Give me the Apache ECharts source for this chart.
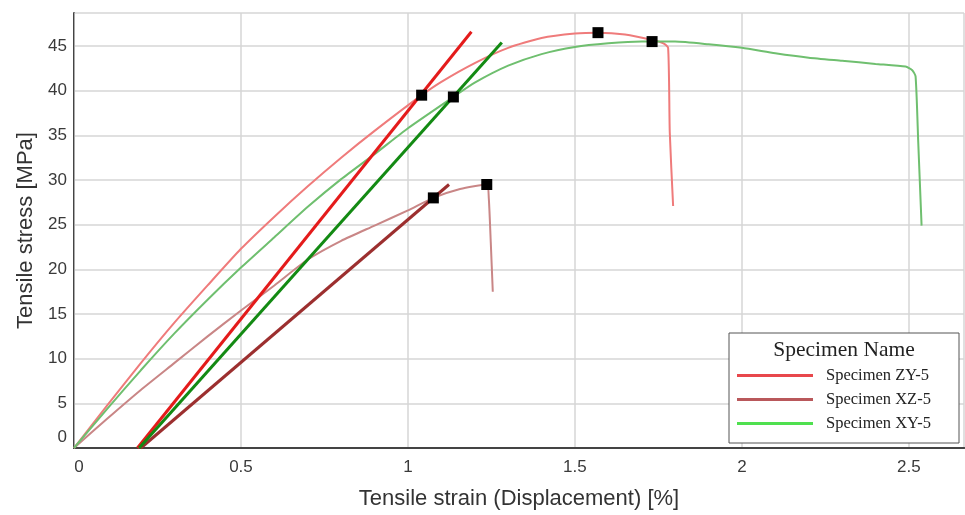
<!DOCTYPE html>
<html>
<head>
<meta charset="utf-8">
<script src="https://cdn.jsdelivr.net/npm/echarts@6/dist/echarts.min.js"></script>
<style>
  html, body { margin: 0; padding: 0; background: #fff; }
  #chart { width: 965px; height: 515px; }
</style>
</head>
<body>
<div id="chart"></div>
<script>
  // stress-strain curves
  const zyStrain = [0, 0.1, 0.2, 0.3, 0.4, 0.5, 0.6, 0.7, 0.8, 0.9, 1.041, 1.1, 1.2, 1.3, 1.4, 1.5, 1.569, 1.65, 1.73, 1.765, 1.779, 1.784, 1.794]
  const zyStress = [0, 4.8, 9.5, 14.0, 18.2, 22.3, 25.9, 29.3, 32.5, 35.5, 39.5, 41.0, 43.1, 44.8, 45.9, 46.4, 46.5, 46.3, 45.7, 45.3, 44.8, 35.3, 27.1]

  const xzStrain = [0, 0.1, 0.2, 0.3, 0.4, 0.5, 0.6, 0.7, 0.8, 0.9, 1.0, 1.076, 1.156, 1.236, 1.242, 1.248, 1.254]
  const xzStress = [0, 3.3, 6.5, 9.5, 12.5, 15.4, 18.2, 21.1, 23.2, 24.9, 26.6, 28.0, 29.0, 29.5, 28.0, 23.0, 17.5]

  const xyStrain = [0, 0.1, 0.2, 0.3, 0.4, 0.5, 0.6, 0.7, 0.8, 0.9, 1.0, 1.136, 1.2, 1.3, 1.4, 1.5, 1.6, 1.7, 1.8, 1.9, 2.0, 2.1, 2.2, 2.3, 2.4, 2.49, 2.51, 2.52, 2.528, 2.538]
  const xyStress = [0, 4.4, 8.7, 12.8, 16.6, 20.2, 23.6, 27.0, 30.1, 32.9, 35.8, 39.3, 40.9, 42.8, 44.1, 44.9, 45.3, 45.5, 45.5, 45.2, 44.8, 44.2, 43.7, 43.35, 43.0, 42.7, 42.3, 41.6, 34.2, 24.9]

  // offset (tangent) lines
  const zyTanStrain = [0.19, 1.19]
  const zyTanStress = [0, 46.6]
  const xzTanStrain = [0.2, 1.123]
  const xzTanStress = [0, 29.5]
  const xyTanStrain = [0.195, 1.281]
  const xyTanStress = [0, 45.4]

  // yield / max points
  const markStrain = [1.041, 1.569, 1.076, 1.236, 1.136, 1.731]
  const markStress = [39.5, 46.5, 28.0, 29.5, 39.3, 45.5]

  const names = ['Specimen ZY-5', 'Specimen XZ-5', 'Specimen XY-5']
  const legendColors = ['#e8474c', '#b9585b', '#4fe04f']

  function pairs(xs, ys) {
    return xs.map((x, i) => [x, ys[i]])
  }

  const labelFont = 'Liberation Sans'
  const chart = echarts.init(document.getElementById('chart'))

  const curve = (name, data, color) => ({
    name: name,
    type: 'line',
    data: data,
    showSymbol: false,
    smooth: 0.2,
    color: color,
    lineStyle: { width: 2, color: color },
    z: 2
  })
  const tangent = (name, data, color) => ({
    name: name,
    type: 'line',
    data: data,
    showSymbol: false,
    color: color,
    lineStyle: { width: 3, color: color },
    z: 3
  })

  chart.setOption({
    animation: false,
    grid: { left: 74, right: 1, top: 13, bottom: 66 },
    xAxis: [{
      type: 'value',
      min: 0,
      max: 2.665,
      interval: 0.5,
      name: 'Tensile strain (Displacement) [%]',
      nameLocation: 'middle',
      nameGap: 40,
      nameTextStyle: { fontFamily: labelFont, fontSize: 22, color: '#333' },
      axisLine: { lineStyle: { color: '#444', width: 2 } },
      axisTick: { show: false },
      axisLabel: {
        fontFamily: labelFont, fontSize: 17, color: '#3a3a3a', margin: 11,
        showMaxLabel: false,
        formatter: v => v === 0 ? '{z|0}' : String(v),
        rich: { z: { fontFamily: labelFont, fontSize: 17, color: '#3a3a3a', padding: [0, 0, 0, 10] } }
      },
      splitLine: { show: true, lineStyle: { color: '#d6d6d6', width: 1.5 } }
    }, {
      type: 'value',
      position: 'top',
      min: 0,
      max: 2.665,
      axisLine: { show: true, lineStyle: { color: '#444', width: 2 } },
      axisTick: { show: false },
      axisLabel: { show: false },
      splitLine: { show: false }
    }],
    yAxis: [{
      type: 'value',
      min: 0,
      max: 48.7,
      interval: 5,
      name: 'Tensile stress [MPa]',
      nameLocation: 'middle',
      nameGap: 37,
      nameTextStyle: { fontFamily: labelFont, fontSize: 22, color: '#333' },
      axisLine: { show: true, lineStyle: { color: '#444', width: 2 } },
      axisTick: { show: false },
      axisLabel: {
        fontFamily: labelFont, fontSize: 17, color: '#3a3a3a', margin: 7,
        showMaxLabel: false,
        formatter: v => v === 0 ? '{z|0}' : String(v),
        rich: { z: { fontFamily: labelFont, fontSize: 17, color: '#3a3a3a', padding: [0, 0, 22, 0] } }
      },
      splitLine: { show: true, lineStyle: { color: '#d6d6d6', width: 1.5 } }
    }, {
      type: 'value',
      position: 'right',
      min: 0,
      max: 48.7,
      axisLine: { show: true, lineStyle: { color: '#aaa', width: 1 } },
      axisTick: { show: false },
      axisLabel: { show: false },
      splitLine: { show: false }
    }],
    legend: {
      orient: 'vertical',
      left: 737,
      top: 367,
      padding: 0,
      itemWidth: 76,
      itemHeight: 3,
      itemGap: 7,
      icon: 'rect',
      selectedMode: false,
      textStyle: { fontFamily: 'Liberation Serif', fontSize: 16.5, color: '#222', lineHeight: 17, padding: [0, 0, 0, 8] },
      data: names.map((n, i) => ({ name: n, itemStyle: { color: legendColors[i] } })),
      z: 6
    },
    graphic: [{
      type: 'rect',
      shape: { x: 729, y: 333, width: 230, height: 110 },
      style: { fill: '#fff', stroke: '#555', lineWidth: 1 },
      z: 5
    }, {
      type: 'text',
      x: 844,
      y: 350,
      style: {
        text: 'Specimen Name',
        align: 'center',
        verticalAlign: 'middle',
        font: '21.5px "Liberation Serif"',
        fill: '#222'
      },
      z: 6
    }],
    series: [
      curve(names[0], pairs(zyStrain, zyStress), '#ef7b7b'),
      curve(names[1], pairs(xzStrain, xzStress), '#c98686'),
      curve(names[2], pairs(xyStrain, xyStress), '#6fbf6f'),
      tangent('ZY-5 offset', pairs(zyTanStrain, zyTanStress), '#e41b1b'),
      tangent('XZ-5 offset', pairs(xzTanStrain, xzTanStress), '#9c2f2f'),
      tangent('XY-5 offset', pairs(xyTanStrain, xyTanStress), '#138a13'),
      {
        name: 'points',
        type: 'scatter',
        data: pairs(markStrain, markStress),
        symbol: 'rect',
        symbolSize: 11,
        itemStyle: { color: '#000', opacity: 1 },
        z: 4
      }
    ]
  })
</script>
</body>
</html>
